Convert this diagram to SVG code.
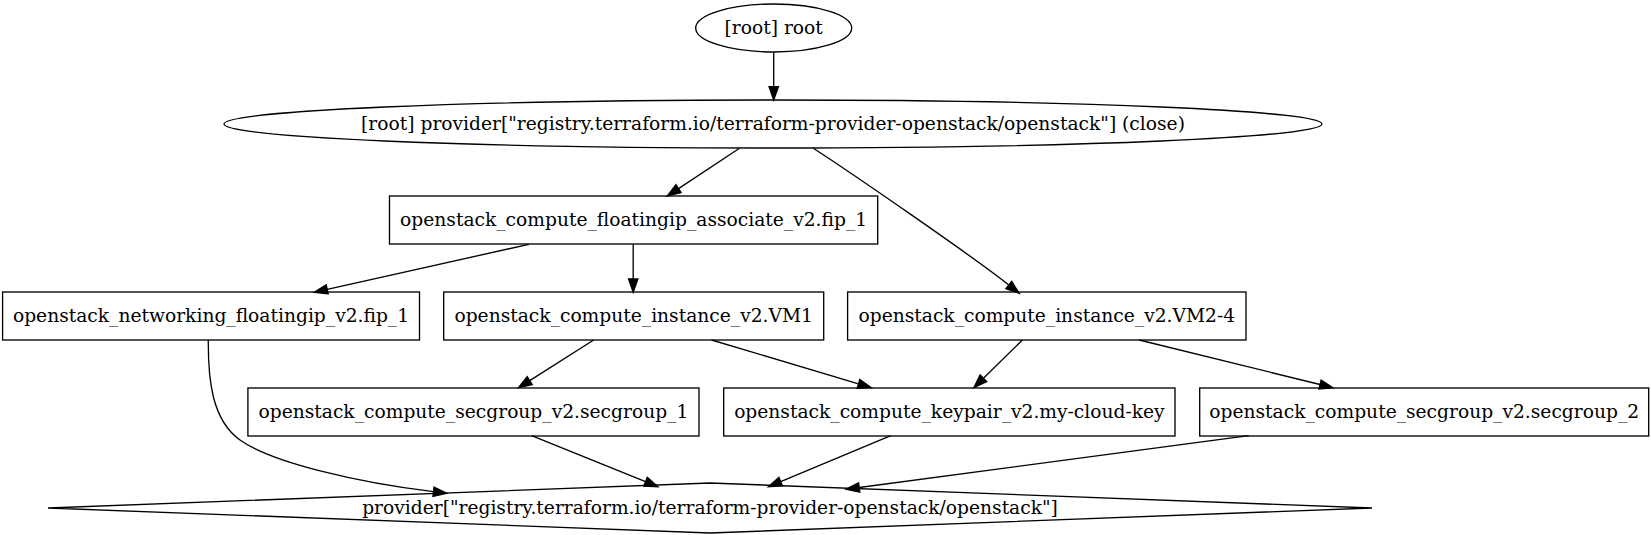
<svg xmlns="http://www.w3.org/2000/svg" width="1651" height="535" viewBox="0 0 1651 535">
<style>
.n{fill:none;stroke:#000;stroke-width:1.33}
.t{font-family:"DejaVu Serif",serif;font-size:18.67px;text-anchor:middle;fill:#000}
.e{fill:none;stroke:#000;stroke-width:1.33;marker-end:url(#ah)}
</style>
<defs>
<marker id="ah" markerUnits="userSpaceOnUse" markerWidth="16" markerHeight="12" refX="0" refY="4.67" orient="auto" viewBox="-1 -1 16 12" overflow="visible">
<path d="M0,0 L13.33,4.67 L0,9.33 Z" fill="#000" stroke="#000" stroke-width="1.33"/>
</marker>
</defs>
<rect width="1651" height="535" fill="#fff"/>
<g id="connectors">
<path class="e" d="M773.7,52 L773.7,86.7"/>
<path class="e" d="M739.5,148.3 L678.5,188.6"/>
<path class="e" d="M813.3,148.3 C850,172 975,258 1008.8,285"/>
<path class="e" d="M528.9,244.3 L327.2,289.4"/>
<path class="e" d="M633.2,244.3 L633.2,279"/>
<path class="e" d="M208.3,340 C208,380 212,420 240,440 C272,463 360,483 433.5,491.7"/>
<path class="e" d="M593.7,340 L529.7,380.6"/>
<path class="e" d="M711.6,340 L858.5,383.9"/>
<path class="e" d="M1022.4,340 L983.4,378.3"/>
<path class="e" d="M1139.2,340 L1320,384.5"/>
<path class="e" d="M531.6,435.7 L645.5,481.7"/>
<path class="e" d="M890.8,435.7 L780.7,481.6"/>
<path class="e" d="M1248.7,435.7 L859.2,487.5"/>
</g>
<g id="root">
<ellipse class="n" cx="773.7" cy="28" rx="78" ry="24"/>
<text class="t" x="773.7" y="33.6">[root] root</text>
</g>
<g id="provider_close">
<ellipse class="n" cx="773" cy="124" rx="549" ry="24"/>
<text class="t" x="773" y="129.6">[root] provider["registry.terraform.io/terraform-provider-openstack/openstack"] (close)</text>
</g>
<g id="fip_associate">
<rect class="n" x="389.5" y="196" width="488.2" height="48"/>
<text class="t" x="633.6" y="225.6">openstack_compute_floatingip_associate_v2.fip_1</text>
</g>
<g id="networking_fip">
<rect class="n" x="2.6" y="292" width="416.9" height="48"/>
<text class="t" x="211" y="321.6">openstack_networking_floatingip_v2.fip_1</text>
</g>
<g id="vm1">
<rect class="n" x="443.7" y="292" width="380" height="48"/>
<text class="t" x="633.7" y="321.6">openstack_compute_instance_v2.VM1</text>
</g>
<g id="vm2_4">
<rect class="n" x="847.6" y="292" width="398.4" height="48"/>
<text class="t" x="1046.8" y="321.6">openstack_compute_instance_v2.VM2-4</text>
</g>
<g id="secgroup_1">
<rect class="n" x="247.9" y="388" width="451.1" height="48"/>
<text class="t" x="473.4" y="417.6">openstack_compute_secgroup_v2.secgroup_1</text>
</g>
<g id="keypair">
<rect class="n" x="723.7" y="388" width="451.3" height="48"/>
<text class="t" x="949.4" y="417.6">openstack_compute_keypair_v2.my-cloud-key</text>
</g>
<g id="secgroup_2">
<rect class="n" x="1199.7" y="388" width="449" height="48"/>
<text class="t" x="1424.2" y="417.6">openstack_compute_secgroup_v2.secgroup_2</text>
</g>
<g id="provider">
<polygon class="n" points="710,483 1372,508 710,533 48,508"/>
<text class="t" x="710" y="513.6">provider["registry.terraform.io/terraform-provider-openstack/openstack"]</text>
</g>
</svg>
